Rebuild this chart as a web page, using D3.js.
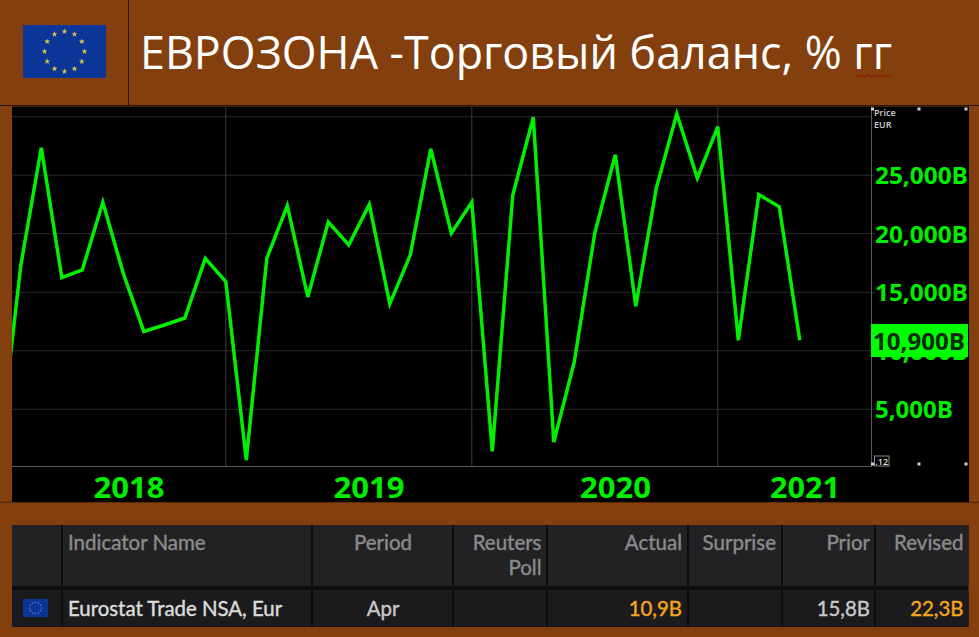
<!DOCTYPE html>
<html><head><meta charset="utf-8">
<script src="https://cdn.jsdelivr.net/npm/d3@7"></script>
<style>html,body{margin:0;padding:0;background:#843f0e}svg{display:block}</style>
</head><body><svg id="c" width="979" height="637"></svg>
<script>
const titleText = "ЕВРОЗОНА -Торговый баланс, % гг";
const months = ["Jan 18","Feb 18","Mar 18","Apr 18","May 18","Jun 18","Jul 18","Aug 18","Sep 18","Oct 18","Nov 18","Dec 18",
"Jan 19","Feb 19","Mar 19","Apr 19","May 19","Jun 19","Jul 19","Aug 19","Sep 19","Oct 19","Nov 19","Dec 19",
"Jan 20","Feb 20","Mar 20","Apr 20","May 20","Jun 20","Jul 20","Aug 20","Sep 20","Oct 20","Nov 20","Dec 20",
"Jan 21","Feb 21","Mar 21","Apr 21"];
const balance = [2000,17300,27350,16250,16900,22700,16600,11650,12200,12800,17900,15900,
670,17900,22400,14600,21000,19050,22500,14000,18200,27250,20050,22700,
1400,23300,29950,2200,9050,20050,26750,13800,23900,30250,24750,29150,
10900,23350,22300,10900];
const yearEnds = ["Dec 18","Dec 19","Dec 20"];
const yearLabels = ["2018","2019","2020","2021"];
const yTicks = [5000,10000,15000,20000,25000];
const gridTicks = [5000,10000,15000,20000,25000,30000];
const lastValue = 10900;
const tableHeaders = [["Indicator Name"],["Period"],["Reuters","Poll"],["Actual"],["Surprise"],["Prior"],["Revised"]];
const tableRow = ["Eurostat Trade NSA, Eur","Apr","","10,9B","","15,8B","22,3B"];
const rowColors = ["#dcdcdc","#c8c8c8","#c8c8c8","#f5a51c","#c8c8c8","#c8c8c8","#f5a51c"];

const svg = d3.select("#c");
const BROWN="#843f0e", GREEN="#00ee00", LINE="#00f000", SANS="'Open Sans',sans-serif", UI="Lato,'Open Sans',sans-serif";
svg.append("rect").attr("width",979).attr("height",637).attr("fill",BROWN);

// header
svg.append("line").attr("x1",128.5).attr("x2",128.5).attr("y1",0).attr("y2",105).attr("stroke","#2a1505").attr("stroke-width",1);
svg.append("line").attr("x1",0).attr("x2",979).attr("y1",105.5).attr("y2",105.5).attr("stroke","#2a1505").attr("stroke-width",1);
function flag(x,y,w,h,rf,star,col){
  const g=svg.append("g").attr("transform",`translate(${x},${y})`);
  g.append("rect").attr("width",w).attr("height",h).attr("fill","#0b3597");
  const r=h*rf;
  g.selectAll("path").data(d3.range(12)).join("path")
    .attr("d",d3.symbol(d3.symbolStar,star))
    .attr("transform",i=>`translate(${w/2+r*Math.sin(i*Math.PI/6)},${h/2-r*Math.cos(i*Math.PI/6)})`)
    .attr("fill",col);
}
flag(23,25,83,53,0.377,11,"#d9c84a");
svg.append("text").attr("x",140).attr("y",69).attr("font-family",SANS).attr("font-size",45)
  .attr("fill","#fff").attr("textLength",752).attr("lengthAdjust","spacingAndGlyphs").text(titleText);
svg.append("path").attr("fill","none").attr("stroke","#8f1c0c").attr("stroke-width",1.1)
  .attr("d",d3.line()(d3.range(0,13).map(k=>[856+k*3,k%2?77:75])));

// chart panel
svg.append("rect").attr("x",12).attr("y",106.5).attr("width",957).attr("height",395.5).attr("fill","#000");
svg.append("line").attr("x1",0).attr("x2",979).attr("y1",502.3).attr("y2",502.3).attr("stroke","#2a1505").attr("stroke-width",.6);

const x = d3.scalePoint().domain(months).range([0.3,799.8]);
const y = d3.scaleLinear().domain([0,30000]).range([467.8,116.7]);
const plotL=12, plotR=871.5, plotB=466.5;

svg.append("g").selectAll("line").data(gridTicks).join("line")
  .attr("x1",plotL).attr("x2",t=>t===30000?plotR:plotR+3).attr("y1",y).attr("y2",y)
  .attr("stroke","#2b2b2b").attr("stroke-width",1);
svg.append("g").selectAll("line").data(yearEnds).join("line")
  .attr("x1",d=>x(d)).attr("x2",d=>x(d)).attr("y1",106.5).attr("y2",plotB)
  .attr("stroke","#3c3c3c").attr("stroke-width",1);
svg.append("line").attr("x1",plotL).attr("x2",plotR).attr("y1",plotB).attr("y2",plotB).attr("stroke","#5a5a5a");
svg.append("line").attr("x1",plotR).attr("x2",plotR).attr("y1",106.5).attr("y2",plotB).attr("stroke","#5a5a5a");

svg.append("clipPath").attr("id","pc").append("rect").attr("x",plotL).attr("y",106.5).attr("width",plotR-plotL).attr("height",plotB-106.5);
svg.append("path").datum(balance).attr("clip-path","url(#pc)")
  .attr("fill","none").attr("stroke",LINE).attr("stroke-width",3.5).attr("stroke-linejoin","miter").attr("stroke-miterlimit",4)
  .attr("d",d3.line().x((d,i)=>x(months[i])).y(d=>y(d)));

// y axis labels
const fmt = d=>d3.format(",")(d)+"B";
svg.append("g").selectAll("text").data(yTicks).join("text")
  .attr("x",875).attr("y",t=>y(t)+9).attr("font-family",SANS).attr("font-weight",700).attr("font-size",23.5)
  .attr("fill",GREEN).attr("textLength",t=>t<10000?78:93).attr("lengthAdjust","spacingAndGlyphs").text(fmt);
// current value box
svg.append("rect").attr("x",871).attr("y",324).attr("width",97).attr("height",33).attr("fill","#00ff00");
svg.append("text").attr("x",873).attr("y",y(lastValue)+10).attr("font-family",SANS).attr("font-weight",700).attr("font-size",23.5)
  .attr("fill","#0a2a0a").attr("textLength",92).attr("lengthAdjust","spacingAndGlyphs").text(fmt(lastValue));

// corner handles and small labels
svg.append("text").attr("x",874).attr("y",116).attr("font-family",SANS).attr("font-size",9).attr("font-weight",600).attr("fill","#cfcfcf").text("Price");
svg.append("text").attr("x",874).attr("y",127.5).attr("font-family",SANS).attr("font-size",9).attr("font-weight",600).attr("fill","#cfcfcf").text("EUR");
const handles=[[872.5,109],[919,109],[966,109],[872.5,464],[919,464],[966,464]];
svg.append("g").selectAll("rect").data(handles).join("rect")
  .attr("x",d=>d[0]-1.5).attr("y",d=>d[1]-1.5).attr("width",3).attr("height",3).attr("fill","#d0d0d0");
svg.append("rect").attr("x",874.5).attr("y",456).attr("width",14.5).attr("height",10).attr("fill","#000").attr("stroke","#aaa").attr("stroke-width",.8);
svg.append("text").attr("x",881.7).attr("y",464.5).attr("text-anchor","middle").attr("font-family",SANS).attr("font-size",9).attr("font-weight",600).attr("fill","#ddd").text(".12");

// year labels
const yearCx=[129,369,615.5,805], yearW=[71,71,71,70];
svg.append("g").selectAll("text").data(yearLabels).join("text")
  .attr("x",(d,i)=>yearCx[i]).attr("y",498).attr("text-anchor","middle")
  .attr("font-family",SANS).attr("font-weight",700).attr("font-size",28).attr("fill",GREEN)
  .attr("textLength",(d,i)=>yearW[i]).attr("lengthAdjust","spacingAndGlyphs").text(d=>d);

// table
const seps=[12,62,312,453,547,688,782,875,968.5];
svg.append("rect").attr("x",12).attr("y",525).attr("width",956.5).attr("height",102).attr("fill","#0d0d0e");
for(let k=0;k<seps.length-1;k++){
  const a=seps[k]+(k?1:0), b=seps[k+1]-(k<seps.length-2?1:0);
  svg.append("rect").attr("x",a).attr("y",525).attr("width",b-a).attr("height",61).attr("fill","#222224");
  svg.append("rect").attr("x",a).attr("y",590).attr("width",b-a).attr("height",36.5).attr("fill","#1b1b1d");
}
const colX=[[68,"start"],[383,"middle"],[541.5,"end"],[682,"end"],[776,"end"],[870,"end"],[963.5,"end"]];
const hdr=svg.append("g").attr("font-family",UI).attr("font-weight",400).attr("font-size",20.5).attr("fill","#8b8b8b").attr("stroke","#8b8b8b").attr("stroke-width",.4);
tableHeaders.forEach((lines,i)=>lines.forEach((t,j)=>{
  hdr.append("text").attr("x",colX[i][0]).attr("y",550+j*25).attr("text-anchor",colX[i][1]).text(t);
}));
const row=svg.append("g").attr("font-family",UI).attr("font-weight",400).attr("font-size",20.4).attr("stroke-width",.4);
tableRow.forEach((t,i)=>{ if(t) row.append("text").attr("x",colX[i][0]).attr("y",616).attr("text-anchor",colX[i][1]).attr("fill",rowColors[i]).attr("stroke",rowColors[i]).text(t); });
flag(23,599,25,18,0.32,1.2,"#8f9fc0");
</script></body></html>
